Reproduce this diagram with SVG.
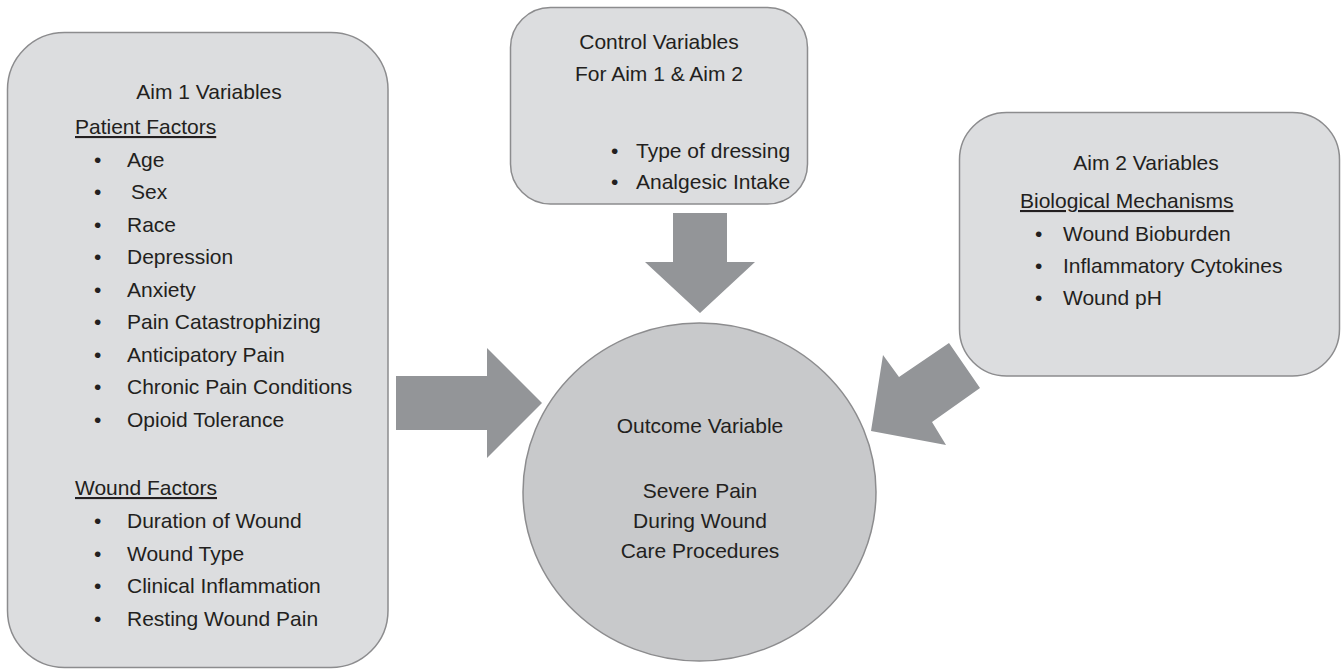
<svg xmlns="http://www.w3.org/2000/svg" width="1341" height="670" viewBox="0 0 1341 670">
<style>
.box{fill:#dcdddf;stroke:#8c8c8e;stroke-width:1.5}
.circ{fill:#c8c9cb;stroke:#8c8c8e;stroke-width:1.5}
.arr{fill:#939598;stroke:none}
text{font-family:"Liberation Sans",Arial,sans-serif;font-size:21px;fill:#231f20}
.c{text-anchor:middle}
.u{text-decoration:underline}
</style>
<rect width="1341" height="670" fill="#ffffff"/>
<g id="connectors">
<polygon class="arr" points="396,376 487,376 487,348 542,403 487,458 487,430 396,430"/>
<polygon class="arr" points="673,213 727,213 727,262 755,262 700,313 645,262 673,262"/>
<polygon class="arr" points="871,431 883,355 899,377 949,343 980,388 932,422 946,445"/>
</g>
<g id="aim1">
<rect class="box" x="7.5" y="32.5" width="380.5" height="635" rx="57" ry="57"/>
<text class="c" x="209" y="99">Aim 1 Variables</text>
<text class="u" x="75" y="134">Patient Factors</text>
<text x="94" y="166.5">•</text><text x="127" y="166.5">Age</text>
<text x="94" y="199">•</text><text x="131" y="199">Sex</text>
<text x="94" y="231.5">•</text><text x="127" y="231.5">Race</text>
<text x="94" y="264">•</text><text x="127" y="264">Depression</text>
<text x="94" y="296.5">•</text><text x="127" y="296.5">Anxiety</text>
<text x="94" y="329">•</text><text x="127" y="329">Pain Catastrophizing</text>
<text x="94" y="361.5">•</text><text x="127" y="361.5">Anticipatory Pain</text>
<text x="94" y="394">•</text><text x="127" y="394">Chronic Pain Conditions</text>
<text x="94" y="426.5">•</text><text x="127" y="426.5">Opioid Tolerance</text>
<text class="u" x="75" y="495">Wound Factors</text>
<text x="94" y="528">•</text><text x="127" y="528">Duration of Wound</text>
<text x="94" y="560.5">•</text><text x="127" y="560.5">Wound Type</text>
<text x="94" y="593">•</text><text x="127" y="593">Clinical Inflammation</text>
<text x="94" y="625.5">•</text><text x="127" y="625.5">Resting Wound Pain</text>
</g>
<g id="control">
<rect class="box" x="510.5" y="7.5" width="297" height="196.5" rx="40" ry="40"/>
<text class="c" x="659" y="49">Control Variables</text>
<text class="c" x="659" y="81">For Aim 1 &amp; Aim 2</text>
<text x="611" y="158">•</text><text x="636" y="158">Type of dressing</text>
<text x="611" y="189">•</text><text x="636" y="189">Analgesic Intake</text>
</g>
<g id="aim2">
<rect class="box" x="959.5" y="112.5" width="380" height="263.5" rx="47" ry="47"/>
<text class="c" x="1146" y="170">Aim 2 Variables</text>
<text class="u" x="1020" y="208">Biological Mechanisms</text>
<text x="1035" y="241">•</text><text x="1063" y="241">Wound Bioburden</text>
<text x="1035" y="273">•</text><text x="1063" y="273">Inflammatory Cytokines</text>
<text x="1035" y="305">•</text><text x="1063" y="305">Wound pH</text>
</g>
<g id="outcome">
<ellipse class="circ" cx="699.5" cy="492" rx="176.5" ry="169"/>
<text class="c" x="700" y="433">Outcome Variable</text>
<text class="c" x="700" y="498">Severe Pain</text>
<text class="c" x="700" y="528">During Wound</text>
<text class="c" x="700" y="558">Care Procedures</text>
</g>
</svg>
